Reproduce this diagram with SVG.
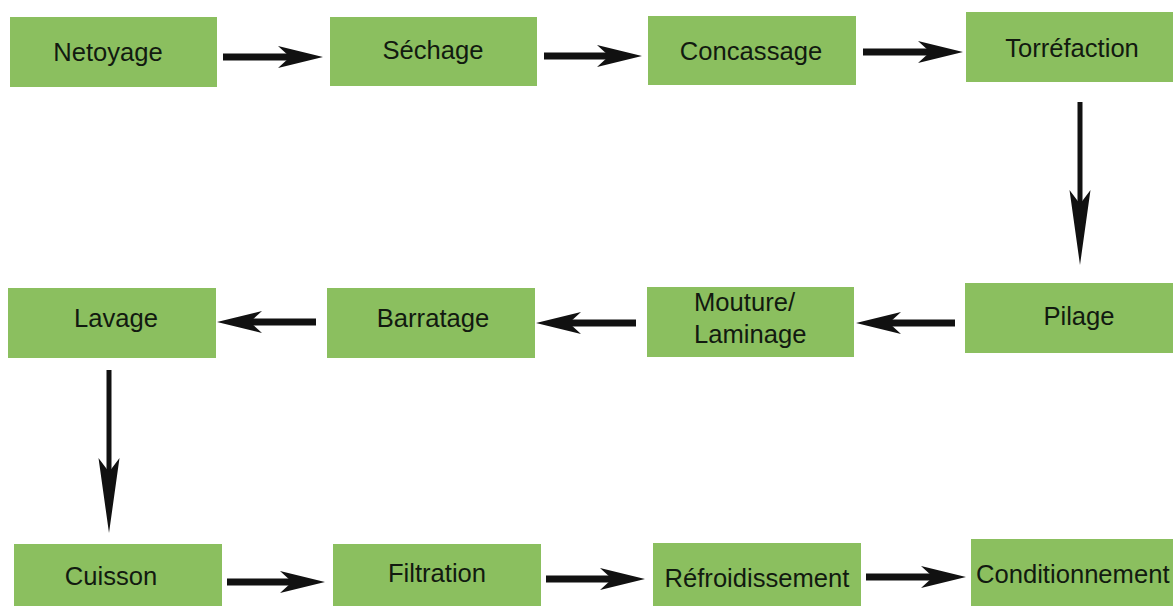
<svg xmlns="http://www.w3.org/2000/svg" width="1173" height="606" viewBox="0 0 1173 606">
<style>
.box{fill:#8bbf5f;}
.lbl{font-family:"Liberation Sans",Arial,sans-serif;font-size:25.6px;fill:#121a10;text-anchor:middle;}
.shaft{stroke:#111;fill:none;stroke-width:7;}
.vshaft{stroke:#111;fill:none;stroke-width:5;}
.head{fill:#111;}
</style>
<rect width="1173" height="606" fill="#ffffff"/>
<g id="connectors">
<line class="shaft" x1="223" y1="57" x2="293" y2="57"/><polygon class="head" points="323,57 278,46 290,57 278,68"/>
<line class="shaft" x1="544" y1="56" x2="612" y2="56"/><polygon class="head" points="642,56 597,45 609,56 597,67"/>
<line class="shaft" x1="863" y1="52" x2="933" y2="52"/><polygon class="head" points="963,52 918,41 930,52 918,63"/>
<line class="vshaft" x1="1080" y1="102" x2="1080" y2="208"/><polygon class="head" points="1080,265 1069.5,190 1080,204 1090.5,190"/>
<line class="shaft" x1="955" y1="323" x2="886" y2="323"/><polygon class="head" points="856,323 901,312 889,323 901,334"/>
<line class="shaft" x1="636" y1="323" x2="566" y2="323"/><polygon class="head" points="536,323 581,312 569,323 581,334"/>
<line class="shaft" x1="316" y1="322" x2="247" y2="322"/><polygon class="head" points="217,322 262,311 250,322 262,333"/>
<line class="vshaft" x1="109" y1="370" x2="109" y2="476"/><polygon class="head" points="109,533 98.5,458 109,472 119.5,458"/>
<line class="shaft" x1="227" y1="582" x2="295" y2="582"/><polygon class="head" points="325,582 280,571 292,582 280,593"/>
<line class="shaft" x1="546" y1="579" x2="615" y2="579"/><polygon class="head" points="645,579 600,568 612,579 600,590"/>
<line class="shaft" x1="866" y1="577" x2="936" y2="577"/><polygon class="head" points="966,577 921,566 933,577 921,588"/>
</g>
<g id="netoyage"><rect class="box" x="10" y="17" width="207" height="70"/><text class="lbl" x="108" y="61">Netoyage</text></g>
<g id="sechage"><rect class="box" x="330" y="17" width="207" height="69"/><text class="lbl" x="433" y="59">Séchage</text></g>
<g id="concassage"><rect class="box" x="648" y="16" width="208" height="69"/><text class="lbl" x="751" y="60">Concassage</text></g>
<g id="torrefaction"><rect class="box" x="966" y="12" width="207" height="70"/><text class="lbl" x="1072" y="57">Torréfaction</text></g>
<g id="pilage"><rect class="box" x="965" y="283" width="208" height="70"/><text class="lbl" x="1079" y="325">Pilage</text></g>
<g id="mouture"><rect class="box" x="647" y="287" width="207" height="70"/><text class="lbl" x="694" y="311" style="text-anchor:start">Mouture/</text><text class="lbl" x="694" y="343" style="text-anchor:start">Laminage</text></g>
<g id="barratage"><rect class="box" x="327" y="288" width="208" height="70"/><text class="lbl" x="433" y="327">Barratage</text></g>
<g id="lavage"><rect class="box" x="8" y="288" width="208" height="70"/><text class="lbl" x="116" y="327">Lavage</text></g>
<g id="cuisson"><rect class="box" x="14" y="544" width="208" height="70"/><text class="lbl" x="111" y="585">Cuisson</text></g>
<g id="filtration"><rect class="box" x="333" y="544" width="208" height="70"/><text class="lbl" x="437" y="582">Filtration</text></g>
<g id="refroidissement"><rect class="box" x="653" y="543" width="208" height="70"/><text class="lbl" x="757" y="587">Réfroidissement</text></g>
<g id="conditionnement"><rect class="box" x="971" y="539" width="202" height="70"/><text class="lbl" x="976" y="583" style="text-anchor:start">Conditionnement</text></g>
</svg>
